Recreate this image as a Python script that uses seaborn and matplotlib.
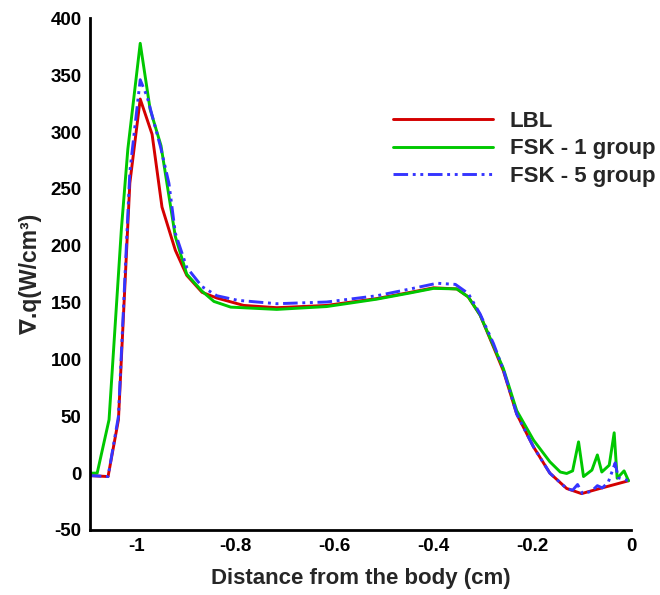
import matplotlib
matplotlib.use("Agg")
import matplotlib.pyplot as plt
from matplotlib.ticker import MultipleLocator
import seaborn as sns

# ---- data ----
lbl_x = [-1.100, -1.057, -1.036, -1.013, -0.992, -0.968, -0.948, -0.921, -0.898, -0.867,
         -0.837, -0.783, -0.716, -0.615, -0.514, -0.446, -0.399, -0.352, -0.329, -0.305,
         -0.278, -0.258, -0.231, -0.197, -0.164, -0.130, -0.100, -0.063, -0.005]
lbl_y = [-2, -3, 47, 255, 329, 298, 234, 196, 174, 159,
         154, 147.5, 145.5, 147.5, 153.5, 159, 163, 162, 155, 139,
         111, 90, 52, 23, 0, -13.5, -18, -13.5, -6.7]

fsk1_x = [-1.100, -1.079, -1.055, -1.030, -1.017, -0.992, -0.972, -0.950, -0.921, -0.898,
          -0.867, -0.843, -0.809, -0.716, -0.615, -0.514, -0.446, -0.399, -0.352, -0.329,
          -0.305, -0.278, -0.258, -0.231, -0.197, -0.164, -0.143, -0.130, -0.118, -0.106,
          -0.096, -0.079, -0.068, -0.059, -0.044, -0.034, -0.028, -0.014, -0.005]
fsk1_y = [0, 0, 47, 215, 285, 378, 320, 288, 208, 175,
          160, 151, 146, 144, 146.5, 153, 158.5, 162.5, 162, 155,
          139, 112, 92, 55, 29, 10, 1, -0.3, 2, 27.5,
          -3, 2.7, 16, 1, 7, 35.5, -4.5, 2, -6.7]

fsk5_x = [-1.100, -1.057, -1.036, -1.013, -0.992, -0.978, -0.951, -0.934, -0.921, -0.898,
          -0.867, -0.837, -0.795, -0.716, -0.615, -0.514, -0.446, -0.392, -0.355, -0.329,
          -0.305, -0.278, -0.258, -0.231, -0.197, -0.164, -0.130, -0.118, -0.108, -0.098,
          -0.080, -0.068, -0.058, -0.046, -0.032, -0.026, -0.005]
fsk5_y = [-2, -3, 50, 265, 346, 331, 287, 255, 211, 181,
          164, 156, 152, 149, 150.5, 156, 162, 167, 166, 158,
          140, 114, 91, 52, 23, 0, -13.5, -15, -10, -18,
          -16, -11, -13, -8, 9, -4, -6.7]

series_names = ["LBL", "FSK - 1 group", "FSK - 5 group"]
x_label = "Distance from the body (cm)"
y_label = "∇.q(W/cm³)"

# ---- style ----
sns.set_style("white")
plt.rcParams["font.family"] = ["Liberation Sans", "DejaVu Sans"]
plt.rcParams["font.weight"] = "bold"
plt.rcParams["axes.unicode_minus"] = False

fig = plt.figure(figsize=(6.6, 5.95), dpi=100)
ax = fig.add_axes([90 / 660, 1 - 530 / 595, (631 - 90) / 660, (530 - 18.3) / 595])

lw = 2.1
sns.lineplot(x=lbl_x, y=lbl_y, ax=ax, sort=False, estimator=None,
             color="#d40000", lw=lw, label=series_names[0])
sns.lineplot(x=fsk1_x, y=fsk1_y, ax=ax, sort=False, estimator=None,
             color="#00c800", lw=lw, label=series_names[1])
sns.lineplot(x=fsk5_x, y=fsk5_y, ax=ax, sort=False, estimator=None,
             color="#3535ff", lw=lw, label=series_names[2],
             linestyle=(0, (5, 1.6, 1, 1.6, 1, 1.6)))

ax.set_xlim(-1.0935, 0.0)
ax.set_ylim(-50, 400)
ax.xaxis.set_major_locator(MultipleLocator(0.2))
ax.xaxis.set_minor_locator(MultipleLocator(0.05))
ax.yaxis.set_major_locator(MultipleLocator(50))
ax.yaxis.set_minor_locator(MultipleLocator(10))
ax.xaxis.set_major_formatter(matplotlib.ticker.FuncFormatter(
    lambda v, p: "0" if abs(v) < 1e-9 else ("-1" if abs(v + 1) < 1e-9 else f"{v:.1f}")))

for s in ["top", "right"]:
    ax.spines[s].set_visible(False)
for s in ["left", "bottom"]:
    ax.spines[s].set_linewidth(2.0)
    ax.spines[s].set_color("black")

ax.tick_params(which="major", direction="in", length=8.5, width=2.0,
               labelsize=13.5, pad=6, colors="black")
ax.tick_params(which="minor", direction="in", length=5, width=1.0, colors="black")
for lab in ax.get_xticklabels() + ax.get_yticklabels():
    lab.set_fontweight("bold")

ax.set_xlabel(x_label, fontsize=16, fontweight="bold", labelpad=9)
ax.set_ylabel(y_label, fontsize=16.5, fontweight="bold", labelpad=6)

leg = ax.legend(loc="upper left", bbox_to_anchor=(393 / 660, 1 - 111 / 595),
                bbox_transform=fig.transFigure, frameon=False, borderpad=0,
                borderaxespad=0, handlelength=4.5, handletextpad=0.75,
                labelspacing=0.29, prop={"size": 16, "weight": "bold"})

fig.savefig("out.png", dpi=100)
